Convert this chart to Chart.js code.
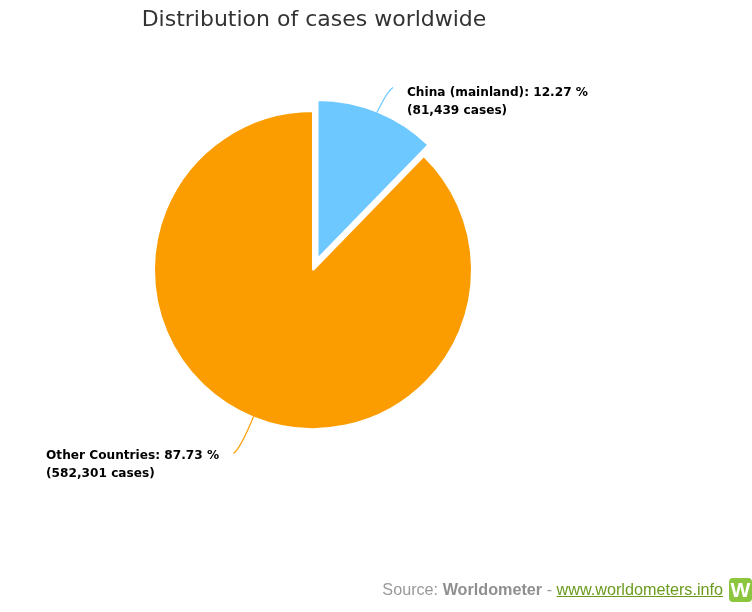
<!DOCTYPE html>
<html>
<head>
<meta charset="utf-8">
<title>Distribution of cases worldwide</title>
<script src="https://cdn.jsdelivr.net/npm/chart.js@4"></script>
<style>
  html, body { margin: 0; padding: 0; background: #fff; }
  #wrap { position: relative; width: 752px; height: 612px; overflow: hidden; }
  #wrap canvas { position: absolute; left: 0; top: 0; }
  #title { position: absolute; left: 0; top: 6px; width: 628px; text-align: center; font: 22px "DejaVu Sans", sans-serif; color: #333; white-space: nowrap; }
  #source { position: absolute; right: 29px; top: 580px; font: 16.2px "Liberation Sans", Arial, sans-serif; color: #999; white-space: nowrap; }
  #source b { color: #8f8f8f; }
  #source a { color: #6b9b1e; text-decoration: underline; }
  #logo { position: absolute; left: 729px; top: 578px; width: 23px; height: 24px; border-radius: 4px; background: #8cc63f; color: #fff; font: bold 21px/24px "Liberation Sans", Arial, sans-serif; text-align: center; overflow: hidden; }
</style>
</head>
<body>
<div id="wrap">
  <canvas id="pie" width="752" height="612"></canvas>
  <div id="title">Distribution of cases worldwide</div>
  <div id="source">Source: <b>Worldometer</b> - <a href="#">www.worldometers.info</a></div>
  <div id="logo">W</div>
</div>
<script>
const categories = ["China (mainland)", "Other Countries"];
const cases = [81439, 582301];
const percents = ["12.27", "87.73"];
const caseLabels = ["81,439", "582,301"];
const colors = ["#6cc8ff", "#fb9d00"];
const explode = [12, 0];

// where each connector ends, relative to the point on the slice edge
const connectors = [
  { dx: 16, dy: -25, textDy: 5 },
  { dx: -20, dy: 37, textDy: 2 },
];

// Chart.js "offset" also grows the arc, so pull the slice out by moving the element
const explodeSlices = {
  id: "explodeSlices",
  afterDatasetUpdate(chart) {
    chart.getDatasetMeta(0).data.forEach((arc, i) => {
      const mid = (arc.startAngle + arc.endAngle) / 2;
      arc.x += Math.cos(mid) * explode[i];
      arc.y += Math.sin(mid) * explode[i];
    });
  },
};

const pieLabels = {
  id: "pieLabels",
  afterDatasetsDraw(chart) {
    const ctx = chart.ctx;
    const arcs = chart.getDatasetMeta(0).data;
    ctx.save();
    ctx.font = 'bold 12.15px "DejaVu Sans", sans-serif';
    ctx.textBaseline = "middle";
    arcs.forEach((arc, i) => {
      const mid = (arc.startAngle + arc.endAngle) / 2;
      const r = arc.outerRadius - 1;
      const startX = arc.x + Math.cos(mid) * r;
      const startY = arc.y + Math.sin(mid) * r;
      const c = connectors[i];
      const endX = startX + c.dx;
      const endY = startY + c.dy;

      ctx.strokeStyle = colors[i];
      ctx.lineWidth = 1.2;
      ctx.beginPath();
      ctx.moveTo(startX, startY);
      ctx.quadraticCurveTo(startX + c.dx * 0.65, startY + c.dy * 0.85, endX, endY);
      ctx.stroke();

      const line1 = `${categories[i]}: ${percents[i]} %`;
      const line2 = `(${caseLabels[i]} cases)`;
      const w = Math.max(ctx.measureText(line1).width, ctx.measureText(line2).width);
      const textX = c.dx > 0 ? endX + 14 : endX - 14.5 - w;
      ctx.fillStyle = "#000";
      ctx.fillText(line1, textX, endY + c.textDy);
      ctx.fillText(line2, textX, endY + c.textDy + 18);
    });
    ctx.restore();
  },
};

new Chart(document.getElementById("pie"), {
  type: "pie",
  data: {
    labels: categories,
    datasets: [{
      data: cases,
      backgroundColor: colors,
      borderColor: "#fff",
      borderWidth: 2,
      radius: 159,
    }],
  },
  options: {
    responsive: false,
    animation: false,
    events: [],
    layout: { padding: { left: 0, top: 0, right: 126, bottom: 72 } },
    plugins: { legend: { display: false }, tooltip: { enabled: false }, title: { display: false } },
  },
  plugins: [explodeSlices, pieLabels],
});
</script>
</body>
</html>
